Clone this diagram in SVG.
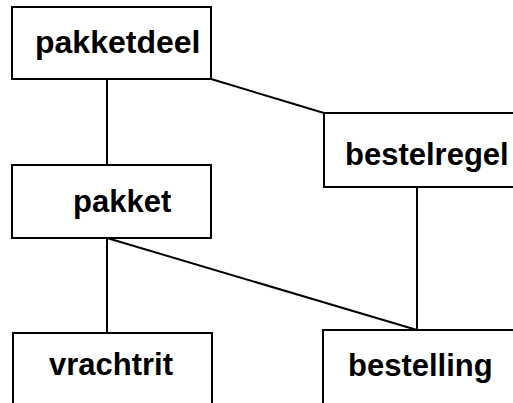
<svg xmlns="http://www.w3.org/2000/svg" width="513" height="403" viewBox="0 0 513 403">
<style>
.box{fill:#fff;stroke:#000;stroke-width:2}
.lbl{font-family:"Liberation Sans",Arial,sans-serif;font-weight:bold;font-size:31px;fill:#000}
.con{stroke:#000;stroke-width:2;fill:none}
</style>
<rect width="513" height="403" fill="#fff"/>
<g id="connectors">
<line class="con" x1="107" y1="79" x2="107" y2="165"/>
<line class="con" x1="211" y1="79" x2="324" y2="113"/>
<line class="con" x1="107" y1="238" x2="107" y2="333"/>
<line class="con" x1="107" y1="238" x2="417" y2="330"/>
<line class="con" x1="417" y1="187" x2="417" y2="330"/>
</g>
<g id="pakketdeel">
<rect class="box" x="12" y="7" width="199" height="72"/>
<text class="lbl" x="35" y="53" style="font-size:32px">pakketdeel</text>
</g>
<g id="bestelregel">
<rect class="box" x="324" y="113" width="200" height="74"/>
<text class="lbl" x="345" y="165">bestelregel</text>
</g>
<g id="pakket">
<rect class="box" x="12" y="165" width="199" height="73"/>
<text class="lbl" x="73" y="212">pakket</text>
</g>
<g id="vrachtrit">
<rect class="box" x="13" y="333" width="199" height="80"/>
<text class="lbl" x="49" y="375">vrachtrit</text>
</g>
<g id="bestelling">
<rect class="box" x="323" y="330" width="200" height="80"/>
<text class="lbl" x="348" y="376">bestelling</text>
</g>
</svg>
